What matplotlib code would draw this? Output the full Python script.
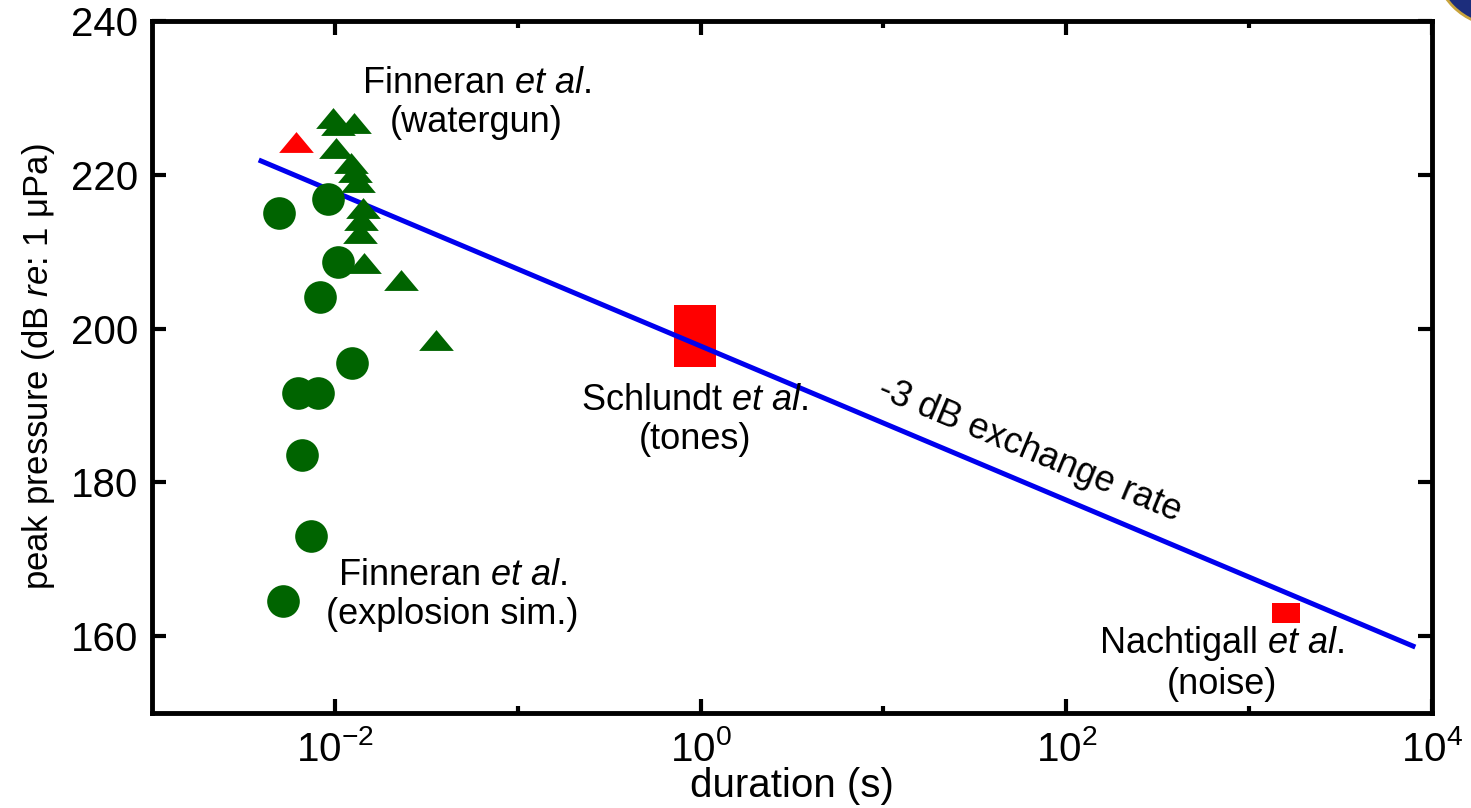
import numpy as np
import matplotlib
matplotlib.use('Agg')
import matplotlib.pyplot as plt
from matplotlib.ticker import FixedLocator, FixedFormatter, NullFormatter
from matplotlib.patches import Circle

plt.rcParams['font.family'] = ['Liberation Sans', 'DejaVu Sans']
plt.rcParams['mathtext.fontset'] = 'custom'
plt.rcParams['mathtext.rm'] = 'Liberation Sans'
plt.rcParams['mathtext.it'] = 'Liberation Sans:italic'
plt.rcParams['mathtext.bf'] = 'Liberation Sans:bold'

# Finneran et al. explosion simulator (green circles): duration (s), peak dB
explosion_t = [0.00495, 0.00912, 0.01035, 0.00835, 0.01247, 0.00628, 0.00805,
               0.00659, 0.00738, 0.0052]
explosion_db = [215.0, 216.9, 208.7, 204.1, 195.5, 191.6, 191.6, 183.6, 173.0, 164.6]

# Finneran et al. watergun (green triangles)
watergun_t = [0.00973, 0.01047, 0.0128, 0.0102, 0.01233, 0.01294, 0.01346,
              0.01432, 0.01397, 0.01377, 0.01449, 0.023, 0.0356]
watergun_db = [227.4, 226.5, 226.7, 223.5, 221.5, 220.4, 219.1, 215.7, 214.1,
               212.4, 208.5, 206.3, 198.5]

# watergun threshold shift point (red triangle)
watergun_red_t = [0.00612]
watergun_red_db = [224.3]

# Schlundt et al. tones (red box): duration range, dB range
schlundt_t = [0.72, 1.21]
schlundt_db = [195.0, 203.1]

# Nachtigall et al. noise (red box)
nachtigall_t = [1336, 1897]
nachtigall_db = [161.7, 164.3]

# -3 dB exchange rate line
rate_t = [0.00395, 7870]
rate_db = [221.8, 158.7]

xtick_major = [1e-2, 1e0, 1e2, 1e4]
xtick_labels = [r'$10^{-2}$', r'$10^{0}$', r'$10^{2}$', r'$10^{4}$']
xtick_minor = [1e-1, 1e1, 1e3]
ytick_vals = [160, 180, 200, 220, 240]

green = '#006400'
red = '#ff0000'
blue = '#0000ee'

fig = plt.figure(figsize=(14.71, 8.08), dpi=100)
ax = fig.add_axes([0.1033, 0.1176, 0.8702, 0.8564])

tri = [(-1, -0.6), (1, -0.6), (0, 0.6)]

ax.plot(rate_t, rate_db, color=blue, linewidth=3.6, zorder=2)
ax.plot(explosion_t, explosion_db, linestyle='none', marker='o', markersize=23.5,
        color=green, markeredgewidth=0, zorder=3)
ax.plot(watergun_t, watergun_db, linestyle='none', marker=tri, markersize=25,
        color=green, markeredgewidth=0, zorder=3)
ax.plot(watergun_red_t, watergun_red_db, linestyle='none', marker=tri, markersize=25,
        color=red, markeredgewidth=0, zorder=3)
ax.fill_between(schlundt_t, schlundt_db[0], schlundt_db[1], color=red, linewidth=0, zorder=1)
ax.fill_between(nachtigall_t, nachtigall_db[0], nachtigall_db[1], color=red, linewidth=0, zorder=1)

ax.set_xscale('log')
ax.set_xlim(1e-3, 1e4)
ax.set_ylim(150, 240)

ax.xaxis.set_major_locator(FixedLocator(xtick_major))
ax.xaxis.set_major_formatter(FixedFormatter(xtick_labels))
ax.xaxis.set_minor_locator(FixedLocator(xtick_minor))
ax.xaxis.set_minor_formatter(NullFormatter())
ax.set_yticks(ytick_vals)

ax.tick_params(axis='both', which='both', direction='in', top=True, right=True,
               labelsize=29, width=3)
ax.tick_params(axis='both', which='major', length=10)
ax.tick_params(axis='x', which='minor', length=5)
ax.tick_params(axis='x', which='major', pad=12)
ax.tick_params(axis='y', which='major', pad=10)
for sp in ax.spines.values():
    sp.set_linewidth(3.5)

ax.set_xlabel('duration (s)', fontsize=29, labelpad=-1)
ax.set_ylabel(r'peak pressure (dB $\it{re}$: 1 μPa)', fontsize=25, labelpad=10)

ann = 26
ax.text(0.0594, 229.3, 'Finneran $\\it{et\\ al}$.\n(watergun)', fontsize=ann,
        ha='center', va='center', multialignment='center', linespacing=1.15)
ax.text(0.044, 165.4, 'Finneran $\\it{et\\ al}$.\n(explosion sim.)', fontsize=ann,
        ha='center', va='center', multialignment='center', linespacing=1.15)
ax.text(0.93, 188.1, 'Schlundt $\\it{et\\ al}$.\n(tones)', fontsize=ann,
        ha='center', va='center', multialignment='center', linespacing=1.15)
ax.text(706, 156.5, 'Nachtigall $\\it{et\\ al}$.\n(noise)', fontsize=ann,
        ha='center', va='center', multialignment='center', linespacing=1.15)
ax.text(63.4, 184.2, '-3 dB exchange rate', fontsize=ann, rotation=-22.6,
        ha='center', va='center', rotation_mode='anchor')

# corner of a seal in the top right
seal = Circle((1500, 848), 66, transform=None, facecolor='#1c2d7c',
              edgecolor='#c9a43c', linewidth=2, zorder=10)
fig.patches.append(seal)

fig.savefig('out.png', dpi=100)
